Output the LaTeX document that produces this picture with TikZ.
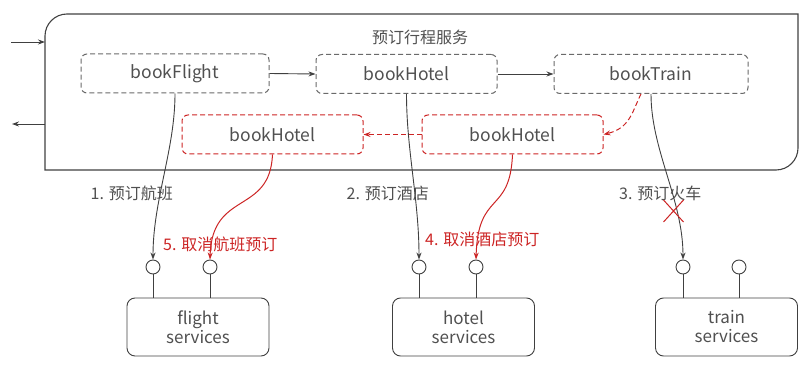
\documentclass[tikz,border=0pt]{standalone}
\usepackage{fontspec}
\setmainfont{Noto Sans CJK SC}
\usetikzlibrary{arrows.meta}
\definecolor{txtgray}{HTML}{505050}
\definecolor{linegray}{HTML}{404040}
\definecolor{dashgray}{HTML}{6A6A6A}
\definecolor{undored}{HTML}{CC2424}

\begin{document}
\begin{tikzpicture}[x=1pt,y=-1pt,
    every node/.style={text=txtgray, font=\fontsize{16}{19}\selectfont},
    dashline/.style={dash pattern=on 5pt off 3pt},
    task/.style={draw=dashgray, dashline, rounded corners=6pt, minimum height=39pt,
        line width=1pt, font=\fontsize{17.5}{20}\selectfont},
    undo/.style={task, draw=undored},
    svc/.style={draw=linegray, rounded corners=8pt, minimum width=142pt, minimum height=58pt,
        align=center, line width=0.9pt, font=\fontsize{17}{19}\selectfont},
    port/.style={draw=linegray, circle, minimum size=14pt, inner sep=0pt, line width=0.9pt},
    call/.style={draw=linegray, line width=0.9pt, -{Stealth[length=7pt,width=5pt]}},
    back/.style={draw=undored, line width=1pt, -{Stealth[length=7pt,width=5pt]}}]
    \useasboundingbox (0,0) rectangle (811,371);

    % Saga frame
    \draw[linegray, line width=1.1pt] (45,170) -- (45,36) .. controls (45,23.9) and (54.9,14) .. (67,14)
        -- (798,14) -- (798,148) .. controls (798,160.1) and (788.1,170) .. (776,170) -- cycle;
    \node (title) at (420,37) {预订行程服务};
    \coordinate (inS) at (11,42);
    \coordinate (inE) at (45,42);
    \coordinate (outS) at (45,124);
    \coordinate (outE) at (12,124);
    \draw[call] (inS) -- (inE);
    \draw[call] (outS) -- (outE);

    % Forward steps
    \node[task, minimum width=188pt] (flight) at (175,73.5) {bookFlight};
    \node[task, minimum width=181pt] (hotel) at (406.5,74) {bookHotel};
    \node[task, minimum width=194pt] (train) at (651,74) {bookTrain};
    \draw[call] (flight.east) -- (hotel.west);
    \draw[call] (hotel.east) -- (train.west);

    % Compensating steps
    \node[undo, minimum width=181pt] (uflight) at (272.5,134.5) {bookHotel};
    \node[undo, minimum width=181pt] (uhotel) at (512.5,134.5) {bookHotel};
    \draw[back, dashline] ([xshift=-10pt]train.south) .. controls (632,112) and (630,128) .. (uhotel.east);
    \draw[back, dashline] (uhotel.west) -- (uflight.east);

    % Services and ports
    \node[svc] (fsvc) at (198,327) {flight\\services};
    \node[svc] (hsvc) at (463.5,327) {hotel\\services};
    \node[svc] (tsvc) at (726.5,327) {train\\services};
    \foreach \n/\x/\s in {fp1/153/fsvc, fp2/210/fsvc, hp1/419/hsvc, hp2/476/hsvc, tp1/683/tsvc, tp2/739/tsvc} {
        \node[port] (\n) at (\x,267) {};
        \draw[linegray, line width=0.9pt] (\n.south) -- (\n.south |- \s.north);
    }

    % Calls
    \draw[call] (flight.south) .. controls (175,150) and (153,200) .. (fp1.north);
    \draw[call] (hotel.south) .. controls (406.5,150) and (419,200) .. (hp1.north);
    \draw[call] (train.south) .. controls (651,150) and (683,200) .. (tp1.north);
    \node[anchor=east, inner sep=0pt] (l1) at (173,193) {1. 预订航班};
    \node[anchor=east, inner sep=0pt] (l2) at (429,193) {2. 预订酒店};
    \node[anchor=west, inner sep=0pt] (l3) at (619,193) {3. 预订火车};

    % Failed call
    \coordinate (cross) at (673.5,211);
    \draw[undored, line width=1pt] ([shift={(-10,-11)}]cross) -- ([shift={(10,11)}]cross)
        ([shift={(-10,11)}]cross) -- ([shift={(10,-11)}]cross);

    % Compensations
    \draw[back] (uflight.south) .. controls (270,215) and (212,190) .. (fp2.north);
    \draw[back] (uhotel.south) .. controls (510,215) and (478,190) .. (hp2.north);
    \node[anchor=west, inner sep=0pt, text=undored] (l5) at (163,244) {5. 取消航班预订};
    \node[anchor=west, inner sep=0pt, text=undored] (l4) at (425,239) {4. 取消酒店预订};
\end{tikzpicture}
\end{document}
